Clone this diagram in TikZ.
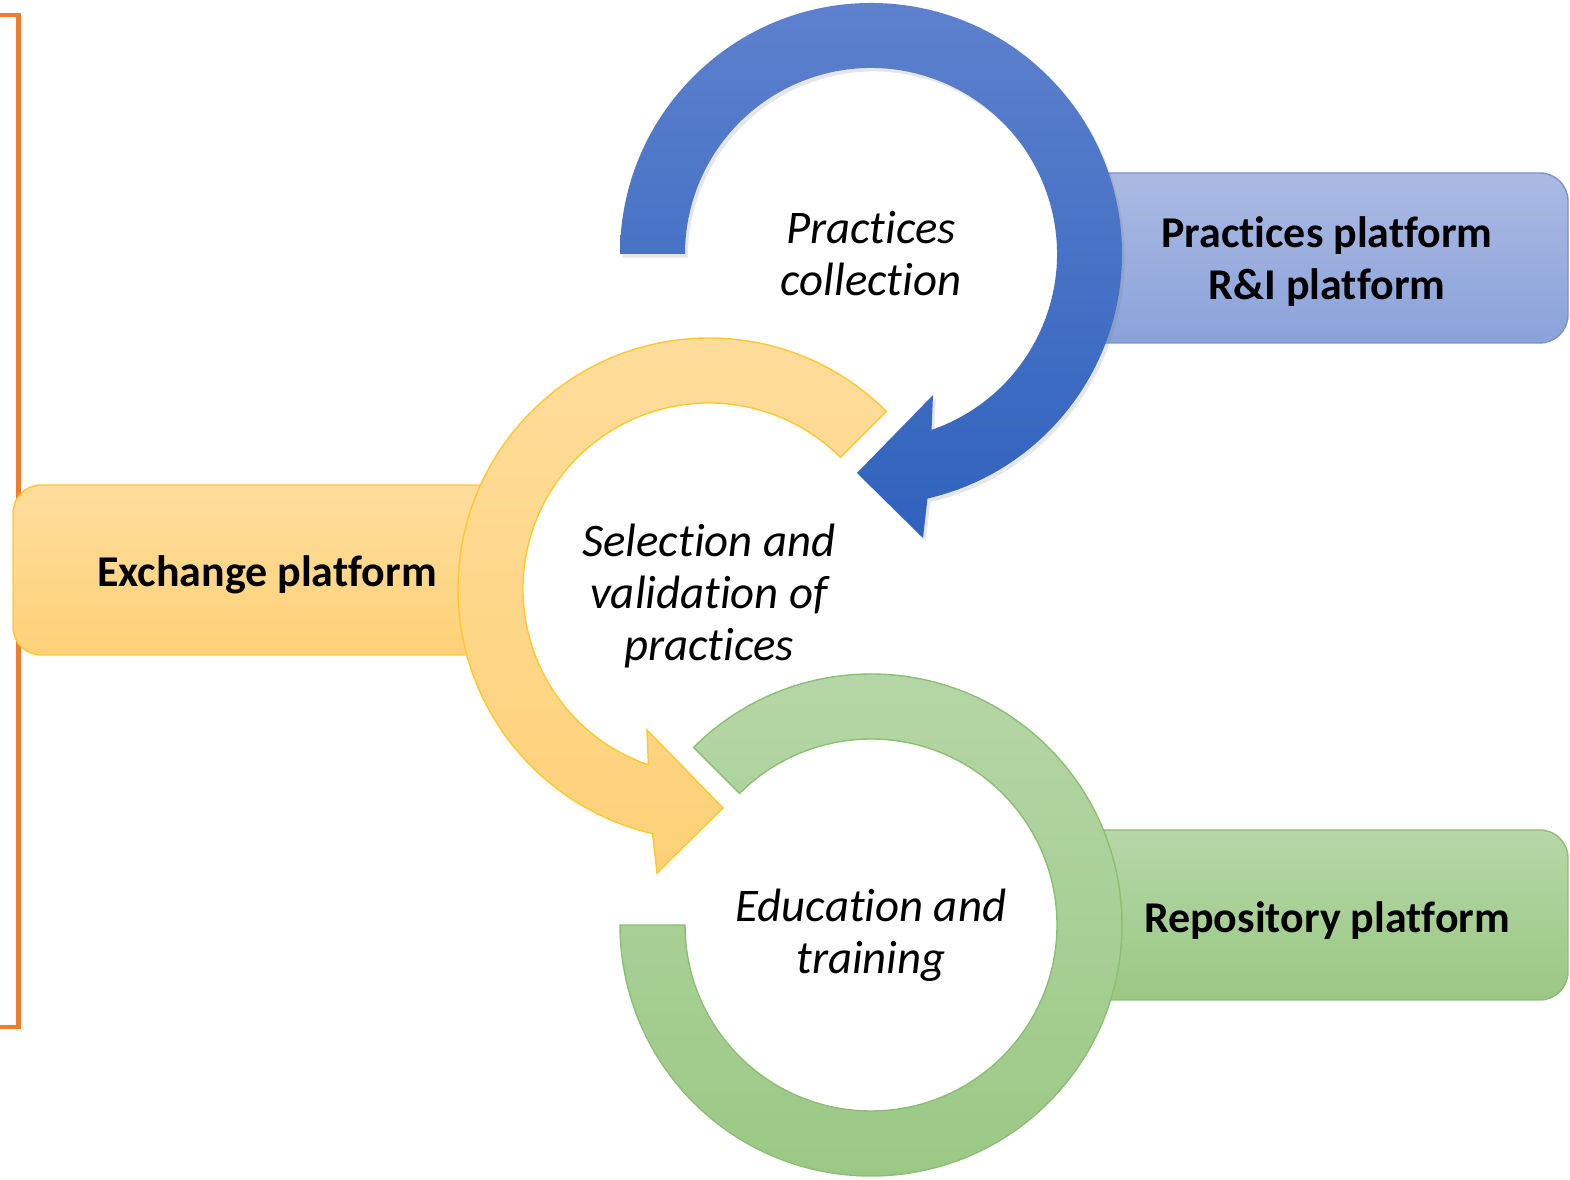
\documentclass[tikz,border=0pt]{standalone}
\usepackage{fontspec}
\setmainfont{Carlito}[RawFeature=-liga]
\usetikzlibrary{shadows}

\definecolor{bluetop}{RGB}{93,129,205}
\definecolor{bluebot}{RGB}{47,98,190}
\definecolor{blueboxtop}{RGB}{170,186,226}
\definecolor{blueboxbot}{RGB}{139,162,218}
\definecolor{blueline}{RGB}{120,146,212}
\definecolor{yeltop}{RGB}{254,221,156}
\definecolor{yelbot}{RGB}{254,209,120}
\definecolor{yelline}{RGB}{255,200,50}
\definecolor{grntop}{RGB}{182,215,168}
\definecolor{grnbot}{RGB}{154,200,131}
\definecolor{grnline}{RGB}{140,190,115}
\definecolor{bracketcol}{RGB}{237,125,49}

\begin{document}
\begin{tikzpicture}[x=0.01cm,y=0.01cm,
  platform/.style={rounded corners=8pt, thin},
  platlabel/.style={align=center, font=\fontsize{12.5}{14.8}\selectfont\bfseries},
  stagelabel/.style={align=center, font=\fontsize{13.3}{14.8}\selectfont\itshape}]

  \useasboundingbox (0,0) rectangle (1570,1179);

  % orange bracket on the left
  \draw[bracketcol, line width=1.4pt] (0,1164) -- (18.5,1164) -- (18.5,152) -- (0,152);

  % centres of the three rings
  \coordinate (ccollect) at (871,925);
  \coordinate (cselect) at (709,590);
  \coordinate (ceducate) at (871,254);

  % platform boxes, behind the rings
  \shadedraw[platform, top color=blueboxtop, bottom color=blueboxbot, draw=blueline] (1060,836) rectangle (1568,1006);
  \shadedraw[platform, top color=yeltop, bottom color=yelbot, draw=yelline] (13,524) rectangle (520,694);
  \shadedraw[platform, top color=grntop, bottom color=grnbot, draw=grnline] (1060,179) rectangle (1568,349);

  % blue ring: practices collection
  \shadedraw[top color=bluetop, bottom color=bluebot, draw=none,
    drop shadow={shadow xshift=0.8pt, shadow yshift=-1pt, opacity=0.2}]
    ([shift={(180:251)}]ccollect) arc[start angle=180, end angle=-77, radius=251]
    -- ([shift={(52,-284)}]ccollect) -- ([shift={(-14,-219)}]ccollect)
    -- ([shift={(62,-141)}]ccollect) -- ([shift={(-71:186)}]ccollect)
    arc[start angle=-71, end angle=180, radius=186] -- cycle;

  % yellow ring: selection and validation
  \shadedraw[top color=yeltop, bottom color=yelbot, draw=yelline, thin]
    ([shift={(45:251)}]cselect) arc[start angle=45, end angle=257, radius=251]
    -- ([shift={(-52,-284)}]cselect) -- ([shift={(14,-219)}]cselect)
    -- ([shift={(-62,-141)}]cselect) -- ([shift={(251:186)}]cselect)
    arc[start angle=251, end angle=45, radius=186] -- cycle;

  % green ring: education and training
  \shadedraw[top color=grntop, bottom color=grnbot, draw=grnline, thin]
    ([shift={(135:251)}]ceducate) arc[start angle=135, end angle=-180, radius=251]
    -- ([shift={(180:186)}]ceducate)
    arc[start angle=-180, end angle=135, radius=186] -- cycle;

  % texts
  \node[stagelabel] (collect) at (ccollect) {Practices\\collection};
  \node[stagelabel] (select) at (709,583) {Selection and\\validation of\\practices};
  \node[stagelabel] (educate) at (871,244) {Education and\\training};

  \node[platlabel] (practplat) at (1327,917) {Practices platform\\R\&I platform};
  \node[platlabel] (exchplat) at (267,604) {Exchange platform};
  \node[platlabel] (repoplat) at (1327,258) {Repository platform};
\end{tikzpicture}
\end{document}
